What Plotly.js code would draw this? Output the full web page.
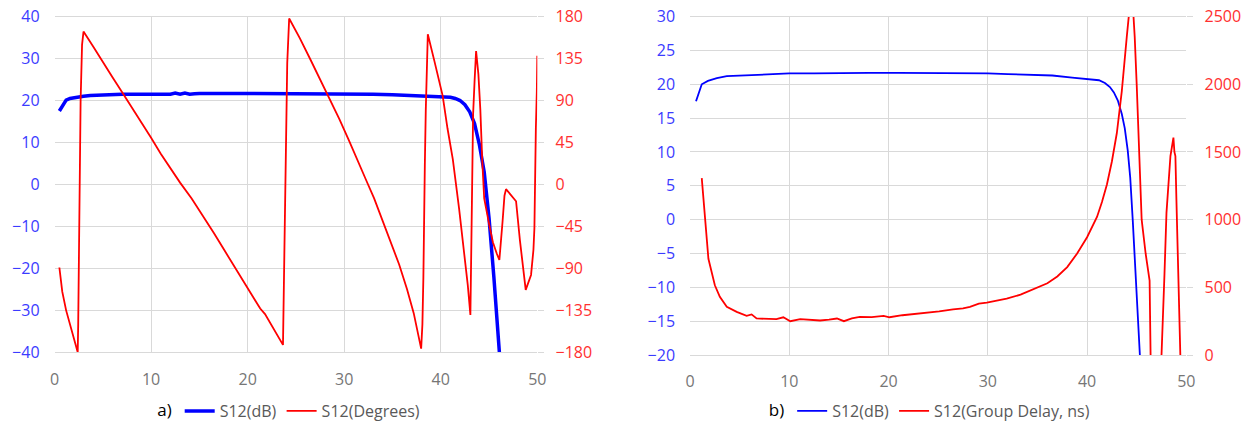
<!DOCTYPE html>
<html>
<head>
<meta charset="utf-8">
<script src="https://cdn.plot.ly/plotly-3.0.1.min.js"></script>
<style>html,body{margin:0;padding:0;background:#fff;}#chart{width:1251px;height:428px;}</style>
</head>
<body>
<div id="chart"></div>
<script>
// ---- Chart a) : S12 magnitude (dB) and phase (degrees) ----
const aDbX = [0.5,0.8,1.2,1.6,2.0,2.5,3.0,3.7,4.5,5.4,7,9,11,12,12.5,13,13.5,14,14.5,15,17,20,23,25,27,29,31,33,35,36,37,38,39,40,40.5,41,41.5,42.0,42.5,43.0,43.5,44.0,44.5,45.0,45.5,46.0,46.2];
const aDb  = [17.5,18.6,20.1,20.5,20.7,20.9,21.0,21.2,21.3,21.4,21.5,21.5,21.5,21.5,21.8,21.5,21.8,21.5,21.6,21.7,21.7,21.7,21.7,21.7,21.6,21.5,21.5,21.5,21.4,21.3,21.2,21.2,21.1,21.0,20.9,20.8,20.5,20.0,19.0,17.3,14.5,9.5,3.0,-8,-22,-38,-44];

const aPhX = [0.5,0.8,1.2,1.6,2.0,2.4,2.45,2.55,2.6,2.7,2.85,3.0,
  4,5,6,7,8,9,10,11,12,13,14.2,15.4,16.5,17.5,18.5,19.5,20.5,21.3,21.8,22.5,23.1,23.66,
  23.75,23.85,23.95,24.1,24.3,
  25.4,26.5,27.5,28.5,29.5,30.5,31.5,32.3,33.1,34,34.9,35.7,36.5,37.2,37.97,
  38.1,38.2,38.25,38.35,38.45,38.55,38.66,
  39.35,40.2,40.7,41.25,41.9,42.4,42.8,43.07,43.15,43.25,43.35,43.5,43.66,43.9,44.1,44.3,44.5,45.0,45.4,45.8,46.07,
  46.4,46.6,46.76,47.0,47.4,47.8,48.2,48.6,48.8,49.35,49.6,49.7,49.75,49.85,49.95,50.0];
const aPh  = [-89,-115,-135,-150,-165,-180,-150,-60,20,90,150,164,
  148,131,115,99,83,66,50,33,17,2,-15,-34,-52,-69,-86,-103,-120,-133,-139,-152,-162,-172,
  -110,-30,60,130,178,
  157,134,113,92,70,47,24,4,-15,-39,-63,-86,-112,-138,-176,
  -150,-100,-30,20,80,120,161,
  132,95,60,27,-26,-70,-108,-140,-90,20,75,110,143,118,80,25,-15,-42,-62,-74,-81,
  -40,-12,-5,-8,-13,-18,-60,-100,-113,-97,-70,-47,0,60,100,138];

// ---- Chart b) : S12 magnitude (dB) and group delay (ns) ----
const bDbX = [0.6,1.18,1.8,2.7,3.7,5,6.5,7.8,10,12.5,15.1,18,21,24,26,28.5,30,32,34.2,36.5,38.5,39.9,41.2,41.8,42.3,42.7,43.1,43.5,43.8,44.1,44.35,44.6,45.0,45.3,45.5];
const bDb  = [17.5,20.0,20.5,20.9,21.2,21.3,21.4,21.5,21.6,21.6,21.7,21.7,21.7,21.7,21.7,21.7,21.6,21.5,21.45,21.3,21.0,20.8,20.6,20.2,19.6,18.8,17.6,15.6,13.5,10.2,6.2,0.0,-11,-20,-25];

const bGdX = [1.18,1.5,1.85,2.5,3.0,3.7,4.7,5.7,6.2,6.7,7.5,8.7,9.4,10.1,11.1,12,13.1,14,14.8,15.5,16.3,17.1,18.3,19.5,20.1,21.4,23.1,24.2,25.1,26.5,27.5,28.2,29.1,29.9,31,31.9,33.3,34.9,36,37,38,39,40,41.0,41.5,42.0,42.5,43.0,43.5,44.0,44.4,44.6,44.8,45.0,45.5,45.9,46.3,46.4,46.5,47.4,47.5,47.8,48.0,48.4,48.6,48.7,48.8,48.9,49.0,49.2,49.4,49.5];
const bGd  = [1307,1005,711,515,430,356,319,290,300,270,268,265,279,250,265,258,255,262,270,250,270,282,280,289,279,294,306,312,323,338,345,356,380,387,405,417,446,495,530,580,650,750,870,1020,1130,1260,1430,1640,1950,2350,2650,2600,2350,2000,1000,750,550,0,-300,-300,0,600,1050,1470,1550,1606,1500,1470,1150,600,0,-300];

const xTicks = [0,10,20,30,40,50];

const BLUE = '#0000ff', RED = '#ff0000';
const GRID = '#d9d9d9';
const FONT = 'Open Sans, Noto Sans, sans-serif';
const blueTick = {family: FONT, size: 16, color: '#3b3bff'};
const redTick  = {family: FONT, size: 16, color: '#ff3030'};
const grayTick = {family: FONT, size: 16, color: '#767676'};

const traces = [
  {x: aDbX, y: aDb, xaxis: 'x', yaxis: 'y', type: 'scatter', mode: 'lines', name: 'S12(dB)',
   line: {color: BLUE, width: 3.5}, legend: 'legend'},
  {x: aPhX, y: aPh, xaxis: 'x', yaxis: 'y2', type: 'scatter', mode: 'lines', name: 'S12(Degrees)',
   line: {color: RED, width: 1.8}, legend: 'legend'},
  {x: bDbX, y: bDb, xaxis: 'x2', yaxis: 'y3', type: 'scatter', mode: 'lines', name: 'S12(dB)',
   line: {color: BLUE, width: 1.8}, legend: 'legend2'},
  {x: bGdX, y: bGd, xaxis: 'x2', yaxis: 'y4', type: 'scatter', mode: 'lines', name: 'S12(Group Delay, ns)',
   line: {color: RED, width: 1.8}, legend: 'legend2'}
];

function xAxis(domain, anchor) {
  return {domain: domain, anchor: anchor, range: [0, 50], tickvals: xTicks, ticktext: xTicks.map(String),
    showgrid: true, gridcolor: GRID, gridwidth: 1, zeroline: false,
    showline: true, linecolor: GRID, linewidth: 1, mirror: true,
    ticks: '', tickfont: grayTick, ticklabelstandoff: 12, fixedrange: true};
}
function yLeft(domain, anchor, range, dtick) {
  return {domain: domain, anchor: anchor, range: range, dtick: dtick, tick0: range[0],
    showgrid: true, gridcolor: GRID, gridwidth: 1, zeroline: false,
    showline: false, ticks: '', tickfont: blueTick, ticklabelstandoff: 14, fixedrange: true};
}
function yRight(overlay, anchor, range, dtick) {
  return {overlaying: overlay, anchor: anchor, side: 'right', range: range, dtick: dtick, tick0: range[0],
    showgrid: false, zeroline: false, showline: false,
    ticks: 'outside', ticklen: 6, tickcolor: GRID, tickwidth: 1,
    tickfont: redTick, ticklabelstandoff: 8, fixedrange: true};
}

const layout = {
  width: 1251, height: 428,
  margin: {l: 0, r: 0, t: 0, b: 0},
  paper_bgcolor: '#ffffff', plot_bgcolor: '#ffffff',
  font: {family: FONT, size: 16, color: '#595959'},
  xaxis: xAxis([0.0436, 0.4295], 'y'),
  yaxis: yLeft([0.1729, 0.961], 'x', [-40, 40], 10),
  yaxis2: yRight('y', 'x', [-180, 180], 45),
  xaxis2: xAxis([0.5516, 0.9483], 'y3'),
  yaxis3: yLeft([0.1666, 0.961], 'x2', [-20, 30], 5),
  yaxis4: yRight('y3', 'x2', [0, 2500], 500),
  showlegend: true,
  legend: {orientation: 'h', x: 0.232, xanchor: 'center', y: 0.035, yanchor: 'middle',
    bgcolor: 'rgba(0,0,0,0)', itemwidth: 30, tracegroupgap: 0,
    font: {family: FONT, size: 16, color: '#595959'},
    title: {text: 'a)', side: 'left', font: {family: FONT, size: 17, color: '#000000'}}},
  legend2: {orientation: 'h', x: 0.744, xanchor: 'center', y: 0.035, yanchor: 'middle',
    bgcolor: 'rgba(0,0,0,0)', itemwidth: 30, tracegroupgap: 0,
    font: {family: FONT, size: 16, color: '#595959'},
    title: {text: 'b)', side: 'left', font: {family: FONT, size: 17, color: '#000000'}}}
};

Plotly.newPlot('chart', traces, layout, {displayModeBar: false, staticPlot: true});
</script>
</body>
</html>
